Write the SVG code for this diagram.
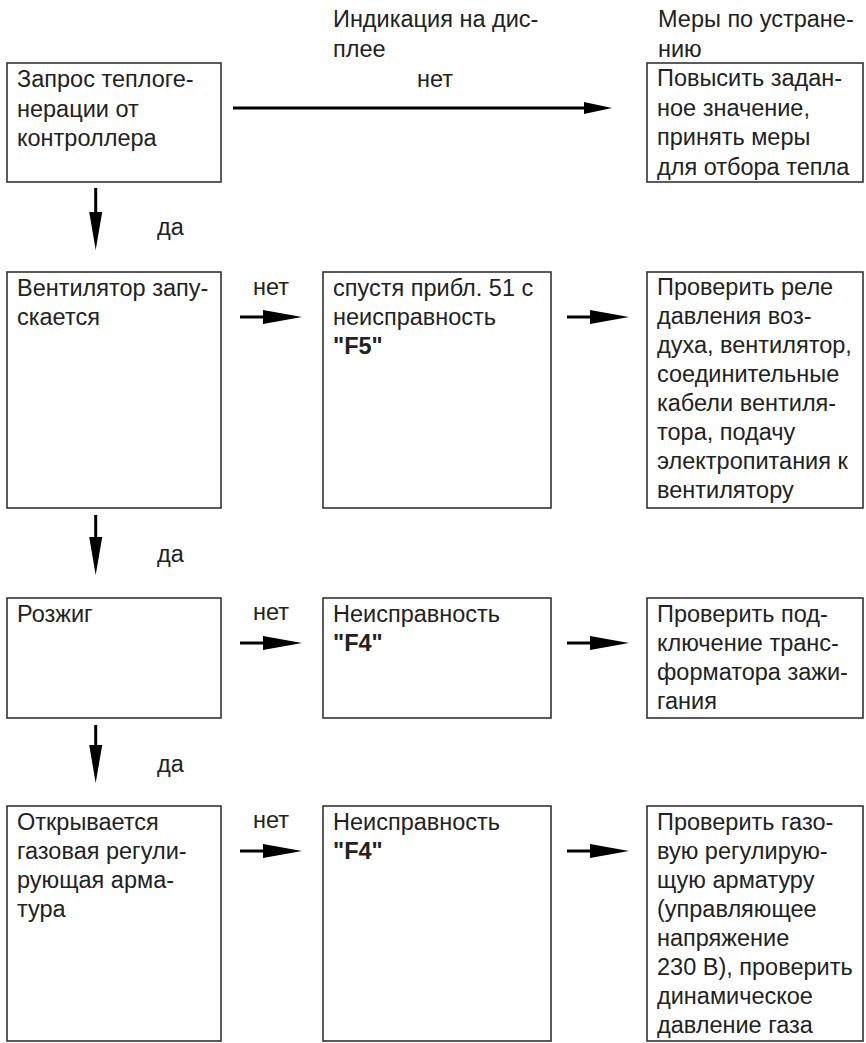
<svg xmlns="http://www.w3.org/2000/svg" width="866" height="1043" viewBox="0 0 866 1043">
  <style>
    .box { fill: #ffffff; stroke: #333333; stroke-width: 1.6; }
    .t { font-family: "Liberation Sans", Arial, sans-serif; font-size: 23.5px; fill: #222222; }
    .b { font-weight: bold; }
    .shaft { stroke: #000000; stroke-width: 3; fill: none; }
    .head { fill: #000000; }
  </style>
  <rect width="866" height="1043" fill="#ffffff"/>

  <!-- column headings -->
  <g id="heading-display">
    <text class="t" x="333" y="27">Индикация на дис-</text>
    <text class="t" x="333" y="57">плее</text>
  </g>
  <g id="heading-remedy">
    <text class="t" x="658" y="27">Меры по устране-</text>
    <text class="t" x="658" y="57">нию</text>
  </g>

  <!-- row 1 -->
  <g id="request">
    <rect class="box" x="7" y="63" width="214" height="119"/>
    <text class="t" x="17" y="87">Запрос теплоге-</text>
    <text class="t" x="17" y="116.5">нерации от</text>
    <text class="t" x="17" y="146">контроллера</text>
  </g>
  <g id="remedy-setpoint">
    <rect class="box" x="647" y="63" width="216" height="119"/>
    <text class="t" x="657" y="86">Повысить задан-</text>
    <text class="t" x="657" y="115.5">ное значение,</text>
    <text class="t" x="657" y="145">принять меры</text>
    <text class="t" x="657" y="174.5">для отбора тепла</text>
  </g>

  <!-- row 2 -->
  <g id="fan">
    <rect class="box" x="7" y="272" width="214" height="236"/>
    <text class="t" x="17" y="296">Вентилятор запу-</text>
    <text class="t" x="17" y="325">скается</text>
  </g>
  <g id="fault-f5">
    <rect class="box" x="323" y="272" width="228" height="236"/>
    <text class="t" x="333" y="296">спустя прибл. 51 с</text>
    <text class="t" x="333" y="325">неисправность</text>
    <text class="t b" x="333" y="354">"F5"</text>
  </g>
  <g id="remedy-fan">
    <rect class="box" x="647" y="272" width="216" height="236"/>
    <text class="t" x="657" y="295">Проверить реле</text>
    <text class="t" x="657" y="324">давления воз-</text>
    <text class="t" x="657" y="353">духа, вентилятор,</text>
    <text class="t" x="657" y="382">соединительные</text>
    <text class="t" x="657" y="411">кабели вентиля-</text>
    <text class="t" x="657" y="440">тора, подачу</text>
    <text class="t" x="657" y="469">электропитания к</text>
    <text class="t" x="657" y="498">вентилятору</text>
  </g>

  <!-- row 3 -->
  <g id="ignition">
    <rect class="box" x="7" y="598" width="214" height="120"/>
    <text class="t" x="17" y="622">Розжиг</text>
  </g>
  <g id="fault-f4-ignition">
    <rect class="box" x="323" y="598" width="228" height="120"/>
    <text class="t" x="333" y="622">Неисправность</text>
    <text class="t b" x="333" y="651">"F4"</text>
  </g>
  <g id="remedy-ignition">
    <rect class="box" x="647" y="598" width="216" height="120"/>
    <text class="t" x="657" y="622">Проверить под-</text>
    <text class="t" x="657" y="651">ключение транс-</text>
    <text class="t" x="657" y="680">форматора зажи-</text>
    <text class="t" x="657" y="709">гания</text>
  </g>

  <!-- row 4 -->
  <g id="gas-valve">
    <rect class="box" x="7" y="806" width="214" height="235"/>
    <text class="t" x="17" y="830">Открывается</text>
    <text class="t" x="17" y="859">газовая регули-</text>
    <text class="t" x="17" y="888">рующая арма-</text>
    <text class="t" x="17" y="917">тура</text>
  </g>
  <g id="fault-f4-gas">
    <rect class="box" x="323" y="806" width="228" height="235"/>
    <text class="t" x="333" y="830">Неисправность</text>
    <text class="t b" x="333" y="859">"F4"</text>
  </g>
  <g id="remedy-gas">
    <rect class="box" x="647" y="806" width="216" height="235"/>
    <text class="t" x="657" y="830">Проверить газо-</text>
    <text class="t" x="657" y="859">вую регулирую-</text>
    <text class="t" x="657" y="888">щую арматуру</text>
    <text class="t" x="657" y="917">(управляющее</text>
    <text class="t" x="657" y="946">напряжение</text>
    <text class="t" x="657" y="975">230 В), проверить</text>
    <text class="t" x="657" y="1004">динамическое</text>
    <text class="t" x="657" y="1033">давление газа</text>
  </g>

  <!-- connectors with their labels -->
  <g id="connectors">
    <!-- request -> remedy (no) -->
    <line class="shaft" x1="233" y1="108" x2="590" y2="108"/>
    <polygon class="head" points="584,102 612,108 584,114"/>
    <text class="t" x="417" y="87">нет</text>

    <!-- request -> fan (yes) -->
    <line class="shaft" x1="95.7" y1="188" x2="95.7" y2="216"/>
    <polygon class="head" points="89.2,212 95.7,250 102.2,212"/>
    <text class="t" x="157" y="235">да</text>

    <!-- fan -> F5 (no) -> remedy -->
    <text class="t" x="253" y="295">нет</text>
    <line class="shaft" x1="240" y1="317" x2="268" y2="317"/>
    <polygon class="head" points="263,310 302,317 263,324"/>
    <line class="shaft" x1="567" y1="317" x2="595" y2="317"/>
    <polygon class="head" points="590,310 629,317 590,324"/>

    <!-- fan -> ignition (yes) -->
    <line class="shaft" x1="95.7" y1="515" x2="95.7" y2="541"/>
    <polygon class="head" points="89.2,537 95.7,575 102.2,537"/>
    <text class="t" x="157" y="562">да</text>

    <!-- ignition -> F4 (no) -> remedy -->
    <text class="t" x="253" y="620">нет</text>
    <line class="shaft" x1="240" y1="643" x2="268" y2="643"/>
    <polygon class="head" points="263,636 302,643 263,650"/>
    <line class="shaft" x1="567" y1="643" x2="595" y2="643"/>
    <polygon class="head" points="590,636 629,643 590,650"/>

    <!-- ignition -> gas valve (yes) -->
    <line class="shaft" x1="95.7" y1="725" x2="95.7" y2="749"/>
    <polygon class="head" points="89.2,745 95.7,783 102.2,745"/>
    <text class="t" x="157" y="772">да</text>

    <!-- gas valve -> F4 (no) -> remedy -->
    <text class="t" x="253" y="828">нет</text>
    <line class="shaft" x1="240" y1="851" x2="268" y2="851"/>
    <polygon class="head" points="263,844 302,851 263,858"/>
    <line class="shaft" x1="567" y1="851" x2="595" y2="851"/>
    <polygon class="head" points="590,844 629,851 590,858"/>
  </g>
</svg>
